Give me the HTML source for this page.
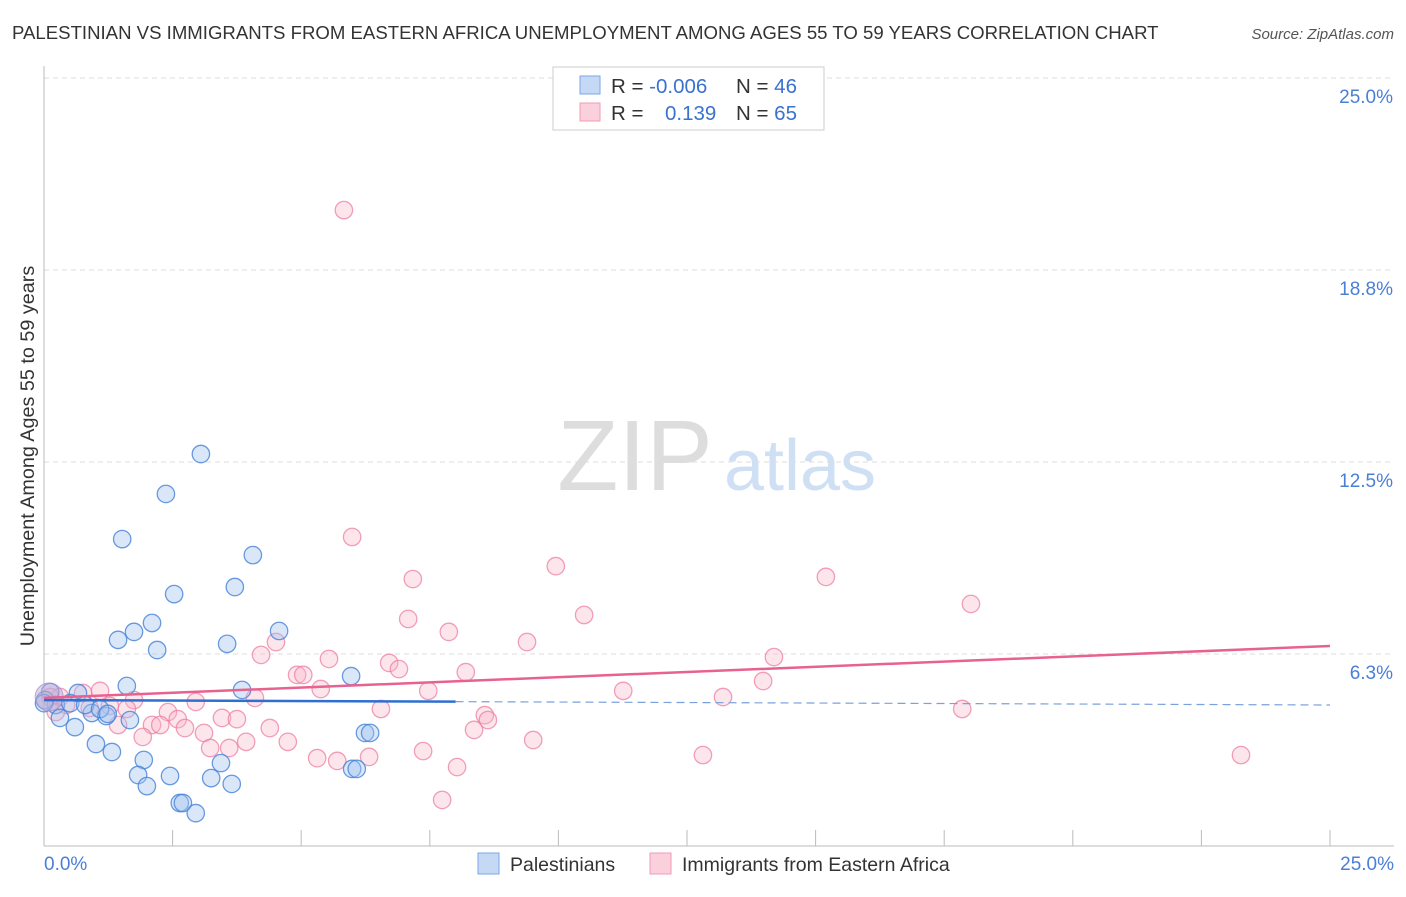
<!DOCTYPE html>
<html><head><meta charset="utf-8"><style>
body{margin:0;background:#fff;font-family:"Liberation Sans",sans-serif;}
svg text{font-family:"Liberation Sans",sans-serif;}
</style></head><body>
<svg id="c" width="1406" height="892" xmlns="http://www.w3.org/2000/svg">
<text x="12" y="39" font-size="18.6" fill="#333">PALESTINIAN VS IMMIGRANTS FROM EASTERN AFRICA UNEMPLOYMENT AMONG AGES 55 TO 59 YEARS CORRELATION CHART</text>
<text x="1394" y="39" font-size="15" fill="#555" font-style="italic" text-anchor="end">Source: ZipAtlas.com</text>
<g><text x="635" y="490" font-size="100" fill="#ddd" font-family="Liberation Serif,serif" text-anchor="middle">ZIP</text><text x="800" y="490" font-size="72" fill="#cfe0f5" text-anchor="middle">atlas</text></g>
<g id="grid"></g><g id="marks"></g>
<text transform="translate(34,456) rotate(-90)" font-size="19.8" fill="#333" text-anchor="middle">Unemployment Among Ages 55 to 59 years</text>
<text x="44" y="870" font-size="19" fill="#4a7fd6">0.0%</text>
<text x="1394" y="870" font-size="19" fill="#4a7fd6" text-anchor="end">25.0%</text>
<g>
<rect x="553" y="67" width="271" height="63" fill="#fff" stroke="#ccc"/>
<rect x="580" y="76" width="20" height="18" fill="#c5d9f5" stroke="#7aa6e6"/>
<rect x="580" y="103" width="20" height="18" fill="#fbd0dd" stroke="#f09ab5"/>
<text x="611" y="93" font-size="20.5" fill="#333">R = <tspan fill="#3a72d0">-0.006</tspan></text>
<text x="736" y="93" font-size="20.5" fill="#333">N = <tspan fill="#3a72d0">46</tspan></text>
<text x="611" y="120" font-size="20.5" fill="#333">R = </text><text x="665" y="120" font-size="20.5" fill="#3a72d0">0.139</text>
<text x="736" y="120" font-size="20.5" fill="#333">N = <tspan fill="#3a72d0">65</tspan></text>
</g>
<g>
<rect x="478" y="853" width="21" height="21" fill="#c5d9f5" stroke="#7aa6e6"/>
<text x="510" y="871" font-size="19.5" fill="#333">Palestinians</text>
<rect x="650" y="853" width="21" height="21" fill="#fbd0dd" stroke="#f09ab5"/>
<text x="682" y="871" font-size="19.5" fill="#333">Immigrants from Eastern Africa</text>
</g>
</svg>
<script>
const yTicks=[6.25,12.5,18.75,25];
const yTickLabels=["6.3%","12.5%","18.8%","25.0%"];
const xTicks=[0,2.5,5,7.5,10,12.5,15,17.5,20,22.5,25];
const blueX=[3.05,2.37,1.52,4.06,2.53,3.71,2.10,1.75,1.44,2.20,3.56,4.57,5.97,3.85,1.61,0.66,0.12,0.23,0.51,0.93,1.21,1.67,0.31,0.60,1.01,1.32,1.94,3.44,1.83,2.45,3.25,2.00,3.65,2.64,2.70,2.95,6.24,6.34,5.99,6.08,0.02,0.0,0.80,1.09,1.24,0.10];
const blueY=[12.76,11.46,9.99,9.47,8.20,8.43,7.26,6.97,6.71,6.38,6.58,7.00,5.53,5.08,5.21,4.98,5.01,4.59,4.65,4.33,4.23,4.10,4.17,3.87,3.32,3.06,2.80,2.70,2.31,2.28,2.21,1.95,2.02,1.40,1.40,1.07,3.68,3.68,2.51,2.51,4.75,4.65,4.59,4.46,4.30,4.36];
const pinkX=[5.83,5.99,9.95,7.17,15.20,18.02,10.50,7.08,7.87,9.39,4.51,4.22,5.54,14.19,6.71,6.90,8.20,4.92,5.04,13.98,5.38,7.47,11.26,13.20,1.09,0.76,4.10,2.95,1.75,0.31,1.28,1.61,6.55,17.85,2.41,8.57,8.63,2.60,3.46,3.75,2.10,2.26,1.44,2.74,4.39,3.11,8.36,1.92,3.93,4.74,9.51,3.23,3.60,7.37,6.32,5.31,5.70,8.03,12.81,23.27,7.74,0.12,0.43,0.89,0.23];
const pinkY=[20.70,10.06,9.11,8.69,8.76,7.88,7.52,7.39,6.97,6.64,6.64,6.22,6.09,6.15,5.96,5.76,5.66,5.57,5.57,5.37,5.11,5.05,5.05,4.85,5.05,4.98,4.82,4.69,4.75,4.85,4.56,4.46,4.46,4.46,4.36,4.26,4.10,4.13,4.17,4.13,3.94,3.94,3.94,3.84,3.84,3.68,3.78,3.55,3.39,3.39,3.45,3.19,3.19,3.09,2.90,2.86,2.77,2.57,2.96,2.96,1.50,4.85,4.59,4.49,4.36];
const blueTrend=[4.75,4.59];
const blueSolidEnd=8.0;
const pinkTrend=[4.82,6.51];
const X=v=>44+v*51.44, Y=v=>846-v*30.72;
const NS="http://www.w3.org/2000/svg";
function mk(p,t,a){const e=document.createElementNS(NS,t);for(const k in a)e.setAttribute(k,a[k]);p.appendChild(e);return e;}
const g=document.getElementById('grid'),m=document.getElementById('marks');
yTicks.forEach((v,i)=>{
 const l=mk(g,'line',{x1:44,x2:1394,y1:Y(v),y2:Y(v),stroke:'#ddd','stroke-dasharray':'5,4'});
 
 
 const t=mk(g,'text',{x:1393,y:Y(v)+25,'font-size':19,fill:'#4a7fd6','text-anchor':'end'});t.textContent=yTickLabels[i];
 
 
});
const ax=mk(g,'line',{x1:44,x2:1394,y1:846,y2:846,stroke:'#bbb'});


const ay=mk(g,'line',{x1:44,x2:44,y1:66,y2:846,stroke:'#bbb'});


xTicks.forEach(v=>{const l=mk(g,'line',{x1:X(v),x2:X(v),y1:830,y2:846,stroke:'#bbb'});
 
 });
function pts(xs,ys,fill,stroke,name){xs.forEach((x,i)=>{const c=mk(m,'circle',{cx:X(x),cy:Y(ys[i]),r:i===xs.length-1&&name==='blue-point'?0:8.7,fill:fill,stroke:stroke,'stroke-width':1.3});
 
 });}
pts(pinkX,pinkY,'rgba(248,180,200,0.35)','rgba(235,120,160,0.7)','pink-point');
pts(blueX,blueY,'rgba(160,195,240,0.4)','rgba(70,130,215,0.8)','blue-point');
const big1=mk(m,'circle',{cx:X(0.1),cy:Y(4.85),r:14,fill:'rgba(200,170,210,0.5)',stroke:'rgba(150,140,210,0.7)'});


const pl=mk(m,'line',{x1:X(0),y1:Y(pinkTrend[0]),x2:X(25),y2:Y(pinkTrend[1]),stroke:'#e8628f','stroke-width':2.5});


const bAt=v=>blueTrend[0]+(blueTrend[1]-blueTrend[0])*v/25;
const bl=mk(m,'line',{x1:X(0),y1:Y(blueTrend[0]),x2:X(blueSolidEnd),y2:Y(bAt(blueSolidEnd)),stroke:'#2f6fd0','stroke-width':2.5});


const bd=mk(m,'line',{x1:X(blueSolidEnd),y1:Y(bAt(blueSolidEnd)),x2:X(25),y2:Y(blueTrend[1]),stroke:'#7aa0dd','stroke-width':1.2,'stroke-dasharray':'8,5'});


</script>
</body></html>
